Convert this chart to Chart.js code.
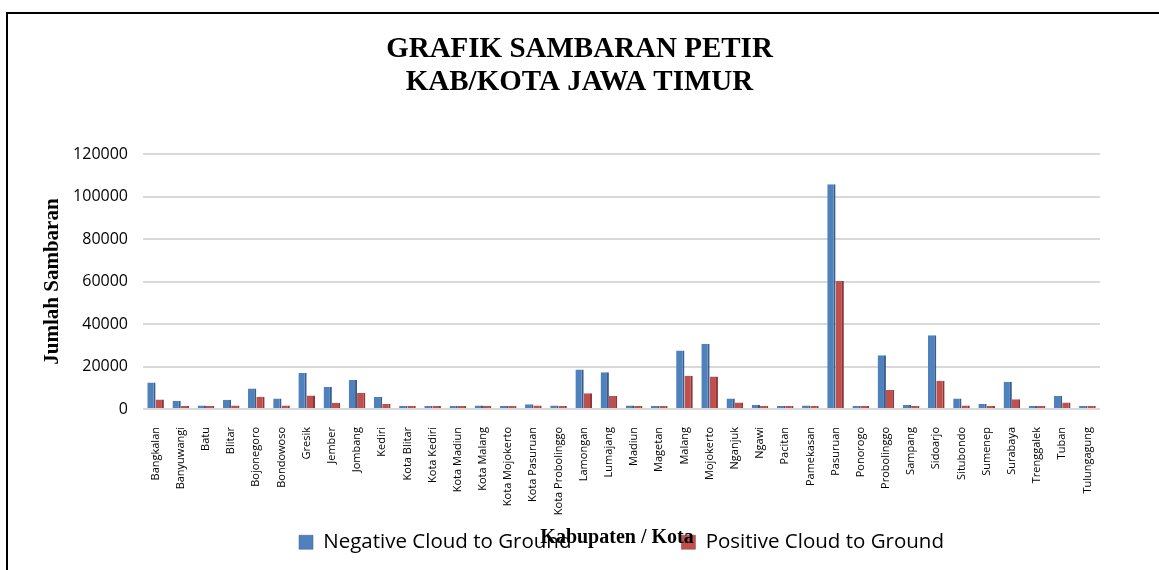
<!DOCTYPE html>
<html>
<head>
<meta charset="utf-8">
<script src="https://cdn.jsdelivr.net/npm/chart.js@4"></script>
<style>
  body { margin: 0; background: #fff; }
  #wrap { position: relative; width: 1159px; height: 570px; }
  #frame {
    position: absolute; left: 6px; top: 12px; right: 0; bottom: 0;
    border-left: 2px solid #000; border-top: 2px solid #000;
    pointer-events: none;
  }
</style>
</head>
<body>
<div id="wrap">
  <canvas id="chart" width="1159" height="570"></canvas>
  <div id="frame"></div>
</div>
<script>
// data kab/kota
const kabKota = ['Bangkalan', 'Banyuwangi', 'Batu', 'Blitar', 'Bojonegoro', 'Bondowoso', 'Gresik', 'Jember',
  'Jombang', 'Kediri', 'Kota Blitar', 'Kota Kediri', 'Kota Madiun', 'Kota Malang', 'Kota Mojokerto',
  'Kota Pasuruan', 'Kota Probolinggo', 'Lamongan', 'Lumajang', 'Madiun', 'Magetan', 'Malang', 'Mojokerto',
  'Nganjuk', 'Ngawi', 'Pacitan', 'Pamekasan', 'Pasuruan', 'Ponorogo', 'Probolinggo', 'Sampang', 'Sidoarjo',
  'Situbondo', 'Sumenep', 'Surabaya', 'Trenggalek', 'Tuban', 'Tulungagung'];

const negativeCG = [12500, 3900, 1600, 4300, 9600, 4900, 16900, 10300, 13700, 5800, 600, 500, 300, 1700, 900,
  2200, 1600, 18600, 17300, 1700, 1100, 27600, 30700, 5000, 1900, 900, 1600, 105800, 1100, 25300, 1900, 34700,
  5000, 2400, 12800, 900, 6200, 1300];

const positiveCG = [4500, 1400, 900, 1600, 5800, 1600, 6300, 3000, 7700, 2400, 500, 400, 300, 1500, 600,
  1700, 900, 7400, 6100, 1300, 800, 15700, 15300, 3100, 1100, 600, 900, 60300, 800, 9000, 1100, 13300,
  1700, 1100, 4600, 600, 3100, 800];

const seriesNames = ['Negative Cloud to Ground', 'Positive Cloud to Ground'];
const yTicks = [0, 20000, 40000, 60000, 80000, 100000, 120000];

// judul sumbu x ditumpuk di atas legenda, seperti di Excel
const xTitlePlugin = {
  id: 'xTitle',
  afterLayout(chart) {
    // geser legenda ke atas (padding besar hanya untuk jarak antar item)
    chart.legend.top -= 97;
    // judul di tengah seluruh lebar kanvas
    if (chart.titleBlock) chart.titleBlock.right = chart.width;
  },
  afterDraw(chart) {
    const ctx = chart.ctx;
    ctx.save();
    ctx.font = 'bold 20px "Liberation Serif", "Times New Roman", serif';
    ctx.fillStyle = '#000';
    ctx.textAlign = 'center';
    ctx.textBaseline = 'middle';
    ctx.fillText('Kabupaten / Kota', 617, 538);
    ctx.restore();
  }
};

const ctx = document.getElementById('chart').getContext('2d');
new Chart(ctx, {
  type: 'bar',
  data: {
    labels: kabKota,
    datasets: [{
      label: seriesNames[0],
      data: negativeCG,
      backgroundColor: '#4f81bd',
      borderColor: '#385d8a',
      borderWidth: { top: 0, right: 2, bottom: 0, left: 0 }
    }, {
      label: seriesNames[1],
      data: positiveCG,
      backgroundColor: '#c0504d',
      borderColor: '#8c3836',
      borderWidth: { top: 0, right: 2, bottom: 0, left: 0 }
    }]
  },
  options: {
    responsive: false,
    animation: false,
    layout: { padding: { left: 0, right: 59, top: 0, bottom: 0 } },
    datasets: { bar: { categoryPercentage: 0.66, barPercentage: 1, minBarLength: 3 } },
    plugins: {
      title: {
        display: true,
        text: ['GRAFIK SAMBARAN PETIR', 'KAB/KOTA JAWA TIMUR'],
        color: '#000',
        font: { family: '"Liberation Serif", "Times New Roman", serif', size: 29, weight: 'bold', lineHeight: 1.14 },
        padding: { top: 33, bottom: 55 }
      },
      legend: {
        position: 'bottom',
        fullSize: false,
        maxHeight: 51,
        labels: {
          boxWidth: 14,
          boxHeight: 14,
          padding: 110,
          color: '#000',
          font: { family: '"Open Sans", sans-serif', size: 20.5 }
        }
      },
      tooltip: { enabled: false }
    },
    scales: {
      x: {
        grid: { display: false },
        border: { display: false },
        ticks: {
          autoSkip: false,
          minRotation: 90,
          maxRotation: 90,
          padding: 10,
          color: '#000',
          font: { family: '"Open Sans", sans-serif', size: 11 }
        },
        afterFit(scale) { scale.height = 110; }
      },
      y: {
        min: 0,
        max: 120000,
        afterBuildTicks(scale) { scale.ticks = yTicks.map(v => ({ value: v })); },
        grid: { color: '#d9d9d9', lineWidth: 2, drawTicks: false },
        border: { display: false },
        ticks: {
          padding: 15,
          color: '#000',
          font: { family: '"Open Sans", sans-serif', size: 16 },
          callback: v => String(v)
        },
        title: {
          display: true,
          text: 'Jumlah Sambaran',
          color: '#000',
          font: { family: '"Liberation Serif", "Times New Roman", serif', size: 21, weight: 'bold', lineHeight: 1.2 },
          padding: { top: 40, bottom: 0 }
        },
        afterFit(scale) { scale.width = 143; }
      }
    }
  },
  plugins: [xTitlePlugin]
});
</script>
</body>
</html>
